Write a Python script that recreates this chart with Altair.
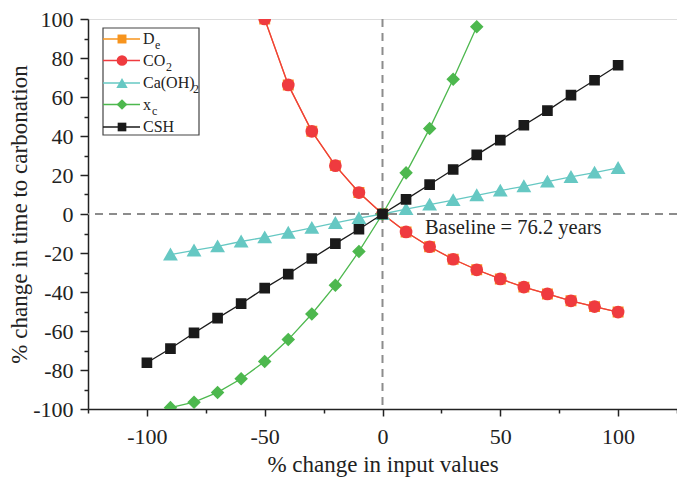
import altair as alt
import pandas as pd

# ---- data ----
x_neg_co2 = [-50, -40, -30, -20, -10, 0, 10, 20, 30, 40, 50, 60, 70, 80, 90, 100]
co2_vals = [100, 66.2, 42.4, 24.8, 11.0, 0, -9.2, -16.8, -23.2, -28.6, -33.3, -37.5, -41.0, -44.5, -47.5, -50.3]
de_vals = [100, 66.2, 42.4, 24.8, 11.0, 0, -9.2, -16.8, -23.2, -28.6, -33.3, -37.5, -41.0, -44.5, -47.5, -50.3]

x_ca = [-90, -80, -70, -60, -50, -40, -30, -20, -10, 0, 10, 20, 30, 40, 50, 60, 70, 80, 90, 100]
ca_vals = [-20.8, -18.7, -16.6, -14.1, -12.0, -9.6, -7.1, -4.6, -2.1, 0, 2.5, 4.8, 7.1, 9.6, 12.0, 14.2, 16.6, 19.0, 21.2, 23.6]

x_xc = [-90, -80, -70, -60, -50, -40, -30, -20, -10, 0, 10, 20, 30, 40]
xc_vals = [-99.3, -96.5, -91.5, -84.5, -75.6, -64.4, -51.3, -36.5, -19.2, 0, 21.1, 43.8, 69.1, 96.0]

x_csh = [-100, -90, -80, -70, -60, -50, -40, -30, -20, -10, 0, 10, 20, 30, 40, 50, 60, 70, 80, 90, 100]
csh_vals = [-76.3, -69.0, -61.0, -53.4, -46.0, -38.0, -30.8, -22.8, -15.2, -7.8, 0, 7.5, 15.1, 22.8, 30.3, 37.9, 45.5, 53.0, 61.0, 68.6, 76.3]

series_names = ["De", "CO2", "CaOH2", "xc", "CSH"]
series_colors = ["#F7941D", "#EF3B3F", "#66C8C3", "#4DB84E", "#1A1A1A"]
series_shapes = ["square", "circle", "triangle-up", "diamond", "square"]
series_sizes = [80, 115, 130, 115, 75]
legend_main = ["D", "CO", "Ca(OH)", "x", "CSH"]
legend_sub = ["e", "2", "2", "c", ""]

FONT = "Liberation Serif"

frames = {
    "De": pd.DataFrame({"x": x_neg_co2, "y": de_vals}),
    "CO2": pd.DataFrame({"x": x_neg_co2, "y": co2_vals}),
    "CaOH2": pd.DataFrame({"x": x_ca, "y": ca_vals}),
    "xc": pd.DataFrame({"x": x_xc, "y": xc_vals}),
    "CSH": pd.DataFrame({"x": x_csh, "y": csh_vals}),
}

xscale = alt.Scale(domain=[-125, 125], nice=False, zero=False)
yscale = alt.Scale(domain=[-100, 100], nice=False, zero=False)

x_axis = alt.Axis(
    title="% change in input values",
    values=list(range(-125, 126, 25)),
    labelExpr="datum.value % 50 === 0 ? '' + datum.value : ''",
    tickSize={"condition": {"test": "datum.value % 50 === 0", "value": 7}, "value": 4},
    grid=False, domainColor="#222", tickColor="#222", domainWidth=1.5, tickWidth=1.5,
    labelFont=FONT, labelFontSize=22, labelColor="#222", labelPadding=10,
    titleFont=FONT, titleFontSize=23, titleFontWeight="normal", titleColor="#222", titlePadding=6,
)
y_axis = alt.Axis(
    title="% change in time to carbonation",
    values=list(range(-100, 101, 10)),
    labelExpr="datum.value % 20 === 0 ? '' + datum.value : ''",
    tickSize={"condition": {"test": "datum.value % 20 === 0", "value": 8}, "value": 4},
    grid=False, domainColor="#222", tickColor="#222", domainWidth=1.5, tickWidth=1.5,
    labelFont=FONT, labelFontSize=22, labelColor="#222", labelPadding=7,
    titleFont=FONT, titleFontSize=23, titleFontWeight="normal", titleColor="#222", titlePadding=1,
)

base_zero = pd.DataFrame({"v": [0]})
hline = alt.Chart(base_zero).mark_rule(color="#8C8C8C", strokeWidth=2, strokeDash=[8, 6]).encode(
    y=alt.Y("v:Q", scale=yscale, axis=y_axis)
)
vline = alt.Chart(base_zero).mark_rule(color="#8C8C8C", strokeWidth=2, strokeDash=[8, 6]).encode(
    x=alt.X("v:Q", scale=xscale, axis=x_axis)
)

layers = [hline, vline]
for name, color, shape, size in zip(series_names, series_colors, series_shapes, series_sizes):
    df = frames[name]
    enc = dict(x=alt.X("x:Q", scale=xscale, axis=x_axis), y=alt.Y("y:Q", scale=yscale, axis=y_axis))
    layers.append(alt.Chart(df).mark_line(color=color, strokeWidth=1.3, clip=True).encode(**enc))
    layers.append(alt.Chart(df).mark_point(shape=shape, filled=True, size=size, color=color, opacity=1,
                                           stroke=color, clip=True).encode(**enc))

baseline_df = pd.DataFrame({"x": [18], "y": [-7.0], "t": ["Baseline = 76.2 years"]})
baseline = alt.Chart(baseline_df).mark_text(font=FONT, fontSize=20.5, align="left", baseline="middle",
                                            color="#222").encode(
    x=alt.X("x:Q", scale=xscale, axis=x_axis), y=alt.Y("y:Q", scale=yscale, axis=y_axis), text="t:N")
layers.append(baseline)

# ---- hand-drawn legend box (pixel positions inside plot area) ----
one = pd.DataFrame({"a": [0]})
lx0, lx1, ly0, ly1 = 15, 111, 9, 116
layers.append(alt.Chart(one).mark_rect(fill="white", stroke="#444", strokeWidth=1.2).encode(
    x=alt.value(lx0), x2=alt.value(lx1), y=alt.value(ly0), y2=alt.value(ly1)))
row_y = [20, 41.5, 64, 85.5, 108]
sub_dx = [12, 23, 50, 9, 0]
for i in range(5):
    c = series_colors[i]
    yy = row_y[i]
    layers.append(alt.Chart(one).mark_rule(color=c, strokeWidth=1.3).encode(
        x=alt.value(lx0), x2=alt.value(52), y=alt.value(yy)))
    layers.append(alt.Chart(one).mark_point(shape=series_shapes[i], filled=True, size=series_sizes[i],
                                            color=c, opacity=1).encode(x=alt.value(34), y=alt.value(yy)))
    layers.append(alt.Chart(one).mark_text(font=FONT, fontSize=16, align="left", baseline="middle",
                                           color="#222", text=legend_main[i]).encode(
        x=alt.value(55), y=alt.value(yy)))
    if legend_sub[i]:
        layers.append(alt.Chart(one).mark_text(font=FONT, fontSize=12, align="left", baseline="middle",
                                               color="#222", text=legend_sub[i]).encode(
            x=alt.value(55 + sub_dx[i]), y=alt.value(yy + 6)))

chart = alt.layer(*layers).properties(
    width=589, height=390,
    autosize=alt.AutoSizeParams(type="none"),
    padding={"left": 80, "top": 11, "right": 0, "bottom": 70},
).configure_view(stroke="#222", strokeWidth=1.5).configure(background="white")

chart.save("out.html", embed_options={"renderer": "svg", "actions": False})
